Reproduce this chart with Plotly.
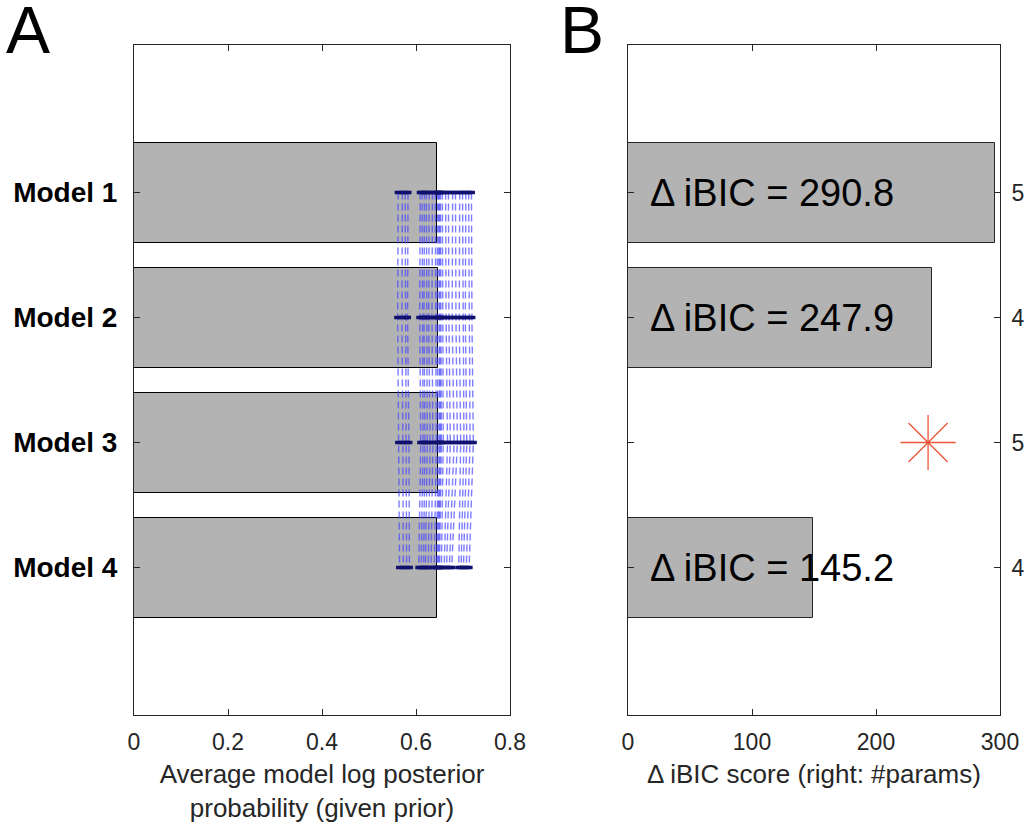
import plotly.graph_objects as go

# ---------------- data ----------------
models = ["Model 1", "Model 2", "Model 3", "Model 4"]
model_pos = [1, 2, 3, 4]
avg_log_post = [0.645, 0.646, 0.647, 0.645]

# per-subject values for each model (subjects in same order)
subj_m1 = [0.562, 0.571, 0.577, 0.583, 0.609, 0.613, 0.618, 0.622, 0.628, 0.635, 0.641, 0.646, 0.648,
           0.650, 0.652, 0.656, 0.663, 0.669, 0.678, 0.684, 0.693, 0.699, 0.706, 0.712, 0.718]
subj_m2 = [0.561, 0.570, 0.578, 0.582, 0.608, 0.614, 0.617, 0.623, 0.627, 0.634, 0.642, 0.645, 0.649,
           0.651, 0.653, 0.657, 0.664, 0.670, 0.677, 0.685, 0.692, 0.700, 0.705, 0.713, 0.719]
subj_m3 = [0.563, 0.572, 0.579, 0.585, 0.610, 0.615, 0.619, 0.624, 0.630, 0.636, 0.643, 0.647, 0.650,
           0.652, 0.654, 0.658, 0.667, 0.673, 0.681, 0.688, 0.695, 0.702, 0.708, 0.715, 0.722]
subj_m4 = [0.565, 0.573, 0.580, 0.586, 0.606, 0.611, 0.616, 0.620, 0.626, 0.632, 0.639, 0.644, 0.646,
           0.648, 0.650, 0.654, 0.660, 0.665, 0.671, 0.676, 0.691, 0.696, 0.701, 0.707, 0.713]

bic_models = ["Model 1", "Model 2", "Model 4"]
bic_pos = [1, 2, 4]
bic_bar = [296, 245, 149]
bic_labels = ["Δ iBIC = 290.8", "Δ iBIC = 247.9", "Δ iBIC = 145.2"]
best_pos = 3
best_x = 242
n_params = ["5", "4", "5", "4"]

xticks_a = [0, 0.2, 0.4, 0.6, 0.8]
xticks_b = [0, 100, 200, 300]

# ---------------- figure ----------------
W, H = 1025, 826


def px_x(p):
    return p / W


def px_y(p):
    return 1 - p / H


axA = (px_x(134), px_x(510))
axB = (px_x(628), px_x(1000))
ydom = (px_y(715), px_y(45))

BAR_GRAY = "#b3b3b3"
AX = "#262626"
FONT = "Liberation Sans, Arial, Helvetica, sans-serif"

fig = go.Figure()

fig.add_trace(go.Bar(
    x=avg_log_post, y=model_pos, orientation="h", width=0.8,
    marker=dict(color=BAR_GRAY, line=dict(color="#000000", width=1)),
    xaxis="x", yaxis="y", showlegend=False, hoverinfo="skip"))

subjects = list(zip(subj_m1, subj_m2, subj_m3, subj_m4))
for vals in subjects:
    fig.add_trace(go.Scatter(
        x=list(vals), y=model_pos, mode="lines",
        line=dict(color="rgba(70,70,255,0.7)", width=1.4, dash="7px,4px"),
        xaxis="x", yaxis="y", showlegend=False, hoverinfo="skip"))
for m, vals in enumerate([subj_m1, subj_m2, subj_m3, subj_m4]):
    fig.add_trace(go.Scatter(
        x=vals, y=[model_pos[m]] * len(vals), mode="markers",
        marker=dict(symbol="line-ew", size=5, line=dict(color="#10106e", width=3.5)),
        xaxis="x", yaxis="y", showlegend=False, hoverinfo="skip"))

fig.add_trace(go.Bar(
    x=bic_bar, y=bic_pos, orientation="h", width=0.8,
    marker=dict(color=BAR_GRAY, line=dict(color="#262626", width=1)),
    xaxis="x2", yaxis="y2", showlegend=False, hoverinfo="skip"))

fig.add_trace(go.Scatter(
    x=[best_x], y=[best_pos], mode="markers",
    marker=dict(symbol="asterisk-open", size=46, line=dict(color="#ff2020", width=1.3)),
    xaxis="x2", yaxis="y2", showlegend=False, hoverinfo="skip"))

annotations = []
for p, t in zip(bic_pos, bic_labels):
    annotations.append(dict(x=16, y=p, xref="x2", yref="y2", text=t, showarrow=False,
                            xanchor="left", yanchor="middle",
                            font=dict(size=38, color="#000000", family=FONT)))
annotations.append(dict(x=px_x(5), y=px_y(-8), xref="paper", yref="paper", text="A", showarrow=False,
                        xanchor="left", yanchor="top", borderpad=0,
                        font=dict(size=66, color="#000000", family=FONT)))
annotations.append(dict(x=px_x(559), y=px_y(-8), xref="paper", yref="paper", text="B", showarrow=False,
                        xanchor="left", yanchor="top", borderpad=0,
                        font=dict(size=66, color="#000000", family=FONT)))

common_x = dict(showline=True, linecolor=AX, linewidth=1, mirror="ticks", ticks="inside", ticklen=6,
                tickcolor=AX, showgrid=False, zeroline=False, automargin=False,
                tickfont=dict(size=23, color=AX, family=FONT), ticklabelstandoff=6,
                title_font=dict(size=26, color=AX, family=FONT), title_standoff=11)
yrange = [5.18, -0.18]

fig.update_layout(
    width=W, height=H, margin=dict(l=0, r=0, t=0, b=0, autoexpand=False),
    paper_bgcolor="white", plot_bgcolor="white", bargap=0,
    font=dict(family=FONT),
    xaxis=dict(domain=axA, anchor="y", range=[0, 0.8], tickvals=xticks_a,
               ticktext=["0", "0.2", "0.4", "0.6", "0.8"],
               title=dict(text="Average model log posterior<br>probability (given prior)"), **common_x),
    yaxis=dict(domain=ydom, anchor="x", range=yrange, tickvals=model_pos, ticktext=models,
               showline=True, linecolor=AX, mirror="ticks", ticks="inside", ticklen=6, tickcolor=AX,
               showgrid=False, zeroline=False, ticklabelstandoff=10, automargin=False,
               tickfont=dict(size=28, color="#000000", family=FONT, weight="bold")),
    xaxis2=dict(domain=axB, anchor="y2", range=[0, 300], tickvals=xticks_b,
                title=dict(text="Δ iBIC score (right: #params)"), **common_x),
    yaxis2=dict(domain=ydom, anchor="x2", range=yrange, tickvals=model_pos, ticktext=n_params,
                side="right", showline=True, linecolor=AX, mirror="ticks", ticks="inside", ticklen=6,
                tickcolor=AX, showgrid=False, zeroline=False, ticklabelstandoff=6, automargin=False,
                tickfont=dict(size=23, color=AX, family=FONT)),
    annotations=annotations,
)

fig.write_html("out.html", config={"displayModeBar": False},
               post_script="document.body.style.margin='0';document.body.style.overflow='hidden';")
